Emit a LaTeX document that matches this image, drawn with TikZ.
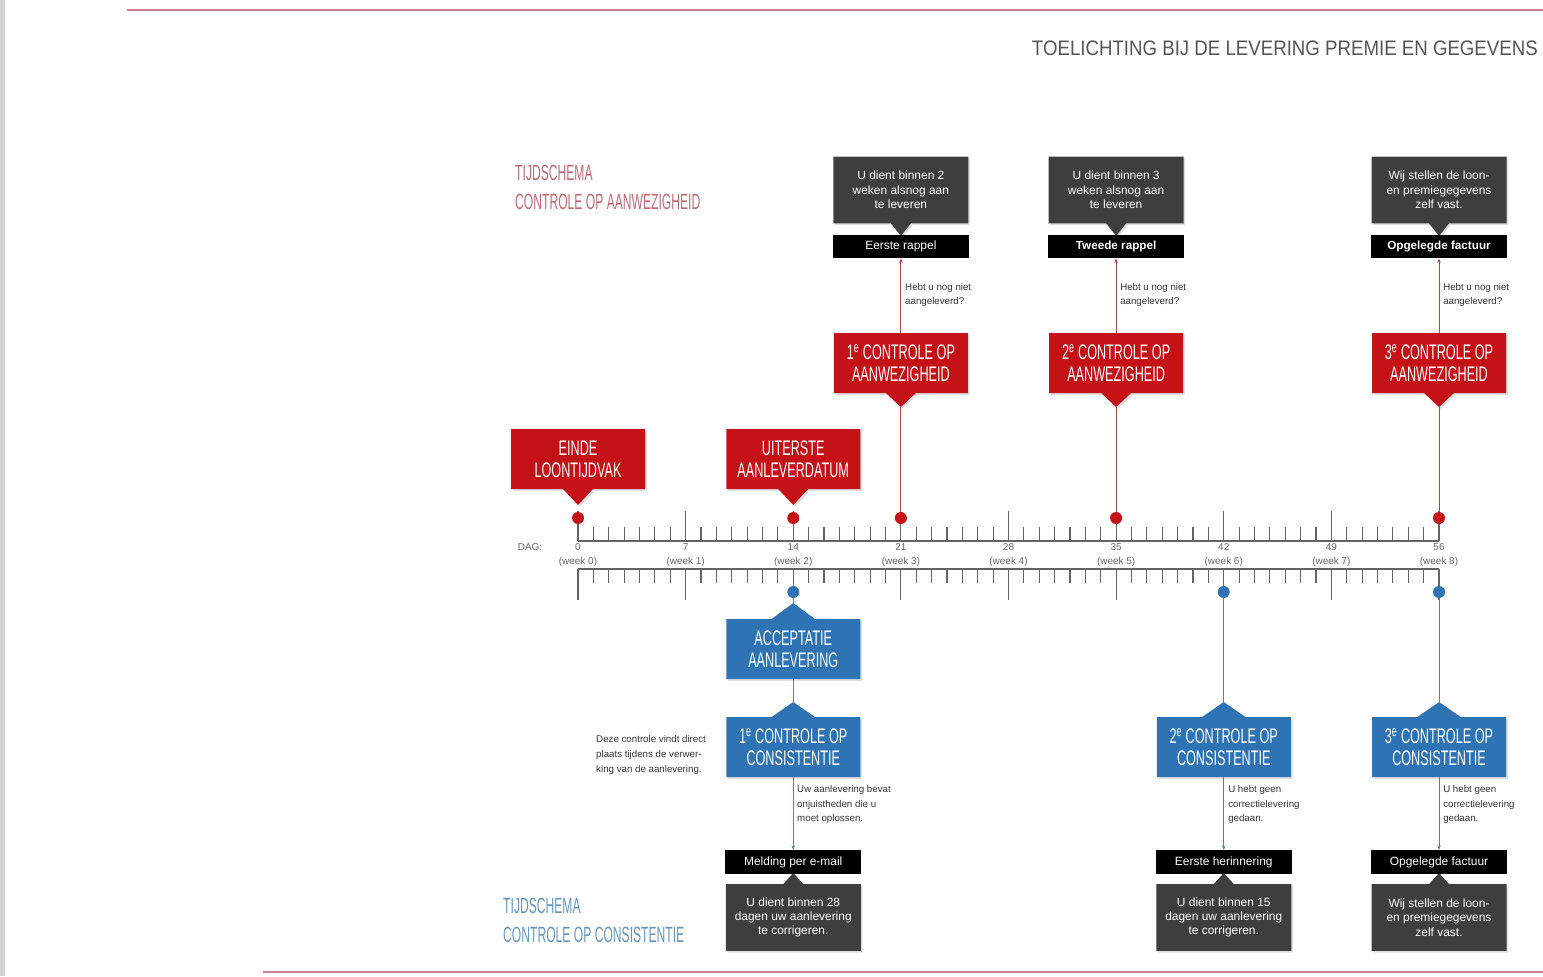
\documentclass[tikz,border=0pt]{standalone}
\usepackage{fontspec}
\setmainfont{Liberation Sans}
\newfontfamily\condfont[FakeStretch=0.6]{Liberation Sans}
\newfontfamily\headfont[FakeStretch=0.55]{Liberation Sans}
\newfontfamily\titlefont[FakeStretch=0.89]{Liberation Sans}
\usepackage{xcolor}
\usepackage{tikz}
\usetikzlibrary{arrows.meta,calc,positioning,shapes.callouts,shadows}

\definecolor{boxred}{RGB}{196,18,22}
\definecolor{boxblue}{RGB}{46,116,181}
\definecolor{boxdark}{RGB}{62,62,62}
\definecolor{headred}{RGB}{190,105,115}
\definecolor{headblue}{RGB}{100,150,190}
\definecolor{rulered}{RGB}{200,130,145}
\definecolor{linered}{RGB}{170,75,75}
\definecolor{lineblue}{RGB}{80,130,180}
\definecolor{axisgray}{RGB}{100,100,100}
\definecolor{titlegray}{RGB}{85,85,85}
\definecolor{pagegray}{RGB}{210,210,210}

\def\dx{15.375}

\tikzset{
  redbox/.style={rectangle callout, fill=boxred, text=white, minimum width=4.02cm, minimum height=1.8cm,
    inner sep=0pt, align=center, font=\condfont\fontsize{18}{18.8}\selectfont,
    callout pointer width=0.9cm, drop shadow={opacity=0.25,shadow xshift=1.5pt,shadow yshift=-1.5pt}},
  bluebox/.style={redbox, fill=boxblue, callout pointer width=1.3cm},
  darkbox/.style={rectangle callout, fill=boxdark, text=white, minimum width=4.05cm, minimum height=2cm,
    inner sep=0pt, align=center, font=\fontsize{10.2}{12.2}\selectfont,
    callout pointer width=0.6cm, drop shadow={opacity=0.25,shadow xshift=1.5pt,shadow yshift=-1.5pt}},
  bar/.style={fill=black, text=white, minimum width=4.08cm, minimum height=0.7cm, inner sep=0pt,
    font=\fontsize{10.2}{12}\selectfont},
  note/.style={align=left, inner sep=0pt, text=black!80, font=\fontsize{8.3}{12.6}\selectfont},
  head/.style={anchor=north west, align=left, inner sep=0pt, font=\headfont\fontsize{18.8}{24.7}\selectfont},
  daylbl/.style={inner sep=0pt, text=axisgray, font=\fontsize{8.5}{10}\selectfont},
  axis/.style={axisgray, line width=0.9pt},
  reddot/.style={circle, fill=boxred, minimum size=0.36cm, inner sep=0pt},
  bluedot/.style={circle, fill=boxblue, minimum size=0.36cm, inner sep=0pt},
  redline/.style={linered, line width=0.7pt},
  blueline/.style={lineblue, line width=0.7pt},
  rule/.style={rulered, line width=2.2pt}
}

\begin{document}
\begin{tikzpicture}[x=0.03cm,y=-0.03cm]
\useasboundingbox (0,0) rectangle (1543,976);
\fill[pagegray] (0,0) rectangle (5,976);
\draw[rule] (127,10) -- (1543,10);
\draw[rule] (263,972) -- (1543,972);
\node[anchor=east, inner sep=0pt, text=titlegray, font=\titlefont\fontsize{17.9}{20}\selectfont] (title) at (1538,48) {TOELICHTING BIJ DE LEVERING PREMIE EN GEGEVENS};

\node[head, text=headred] (headA) at (515,165) {TIJDSCHEMA\\CONTROLE OP AANWEZIGHEID};
\node[head, text=headblue] (headC) at (503,898) {TIJDSCHEMA\\CONTROLE OP CONSISTENTIE};

% time axes
\draw[axis] (578,541) -- (1439,541);
\draw[axis] (578,569) -- (1439,569);
\foreach \d in {0,...,56} {
  \draw[axis] ({578+\d*\dx},541) -- ++(0,-14);
  \draw[axis] ({578+\d*\dx},569) -- ++(0,14);
}
\foreach \w [evaluate=\w as \d using int(7*\w)] in {0,...,8} {
  \draw[axis] ({578+\d*\dx},541) -- ++(0,-30);
  \draw[axis] ({578+\d*\dx},569) -- ++(0,31);
  \node[daylbl] at ({578+\d*\dx},547) {\d};
  \node[daylbl] at ({578+\d*\dx},562) {(week \w)};
}
\node[daylbl] (dag) at (530,547) {DAG:};

\node[reddot] (r0) at (578,518) {};
\node[reddot] (r14) at (793.25,518) {};
\node[reddot] (r21) at (900.875,518) {};
\node[reddot] (r35) at (1116.125,518) {};
\node[reddot] (r56) at (1439,518) {};
\node[bluedot] (b14) at (793.25,592) {};
\node[bluedot] (b42) at (1223.75,592) {};
\node[bluedot] (b56) at (1439,592) {};

% aanwezigheid
\node[redbox, callout absolute pointer={(578,505)}] (einde) at (578,459) {EINDE\\LOONTIJDVAK};
\node[redbox, callout absolute pointer={(793.25,505)}] (uiterste) at (793.25,459) {UITERSTE\\AANLEVERDATUM};

\node[redbox, callout absolute pointer={(900.875,407)}] (aanw1) at (900.875,363) {1\textsuperscript{e} CONTROLE OP\\AANWEZIGHEID};
\node[redbox, callout absolute pointer={(1116.125,407)}] (aanw2) at (1116.125,363) {2\textsuperscript{e} CONTROLE OP\\AANWEZIGHEID};
\node[redbox, callout absolute pointer={(1439,407)}] (aanw3) at (1439,363) {3\textsuperscript{e} CONTROLE OP\\AANWEZIGHEID};
\draw[redline] (aanw1.pointer) -- (r21);
\draw[redline] (aanw2.pointer) -- (r35);
\draw[redline] (aanw3.pointer) -- (r56);

\node[darkbox, callout absolute pointer={(900.875,236)}] (msgA1) at (900.875,190) {U dient binnen 2\\weken alsnog aan\\te leveren};
\node[darkbox, callout absolute pointer={(1116.125,236)}] (msgA2) at (1116.125,190) {U dient binnen 3\\weken alsnog aan\\te leveren};
\node[darkbox, callout absolute pointer={(1439,236)}] (msgA3) at (1439,190) {Wij stellen de loon-\\en premiegegevens\\zelf vast.};
\node[bar] (rappel1) at (900.875,246.5) {Eerste rappel};
\node[bar, font=\bfseries\fontsize{10}{12}\selectfont] (rappel2) at (1116.125,246.5) {Tweede rappel};
\node[bar, font=\bfseries\fontsize{10}{12}\selectfont] (factuurA) at (1439,246.5) {Opgelegde factuur};

\draw[redline, -{Stealth[length=4pt,width=3pt]}] (aanw1.north) -- (rappel1.south);
\draw[redline, -{Stealth[length=4pt,width=3pt]}] (aanw2.north) -- (rappel2.south);
\draw[redline, -{Stealth[length=4pt,width=3pt]}] (aanw3.north) -- (factuurA.south);
\node[note, anchor=west] (vraag1) at (905,295) {Hebt u nog niet\\aangeleverd?};
\node[note, anchor=west] (vraag2) at (1120,295) {Hebt u nog niet\\aangeleverd?};
\node[note, anchor=west] (vraag3) at (1443,295) {Hebt u nog niet\\aangeleverd?};

% consistentie
\node[bluebox, callout absolute pointer={(793.25,603)}] (accept) at (793.25,649) {ACCEPTATIE\\AANLEVERING};
\node[bluebox, callout absolute pointer={(793.25,702)}] (cons1) at (793.25,747) {1\textsuperscript{e} CONTROLE OP\\CONSISTENTIE};
\node[bluebox, callout absolute pointer={(1223.75,702)}] (cons2) at (1223.75,747) {2\textsuperscript{e} CONTROLE OP\\CONSISTENTIE};
\node[bluebox, callout absolute pointer={(1439,702)}] (cons3) at (1439,747) {3\textsuperscript{e} CONTROLE OP\\CONSISTENTIE};
\draw[blueline] (b14) -- (accept.pointer);
\draw[blueline] (accept.south) -- (cons1.pointer);
\draw[blueline] (b42) -- (cons2.pointer);
\draw[blueline] (b56) -- (cons3.pointer);

\node[darkbox, callout absolute pointer={(793.25,873)}] (msgC1) at (793.25,917.5) {U dient binnen 28\\dagen uw aanlevering\\te corrigeren.};
\node[darkbox, callout absolute pointer={(1223.75,873)}] (msgC2) at (1223.75,917.5) {U dient binnen 15\\dagen uw aanlevering\\te corrigeren.};
\node[darkbox, callout absolute pointer={(1439,873)}] (msgC3) at (1439,917.5) {Wij stellen de loon-\\en premiegegevens\\zelf vast.};
\node[bar] (mail) at (793.25,862) {Melding per e-mail};
\node[bar] (herinnering) at (1223.75,862) {Eerste herinnering};
\node[bar] (factuurC) at (1439,862) {Opgelegde factuur};

\draw[blueline, -{Stealth[length=4pt,width=3pt]}] (cons1.south) -- (mail.north);
\draw[blueline, -{Stealth[length=4pt,width=3pt]}] (cons2.south) -- (herinnering.north);
\draw[blueline, -{Stealth[length=4pt,width=3pt]}] (cons3.south) -- (factuurC.north);

\node[note, anchor=west] (direct) at (596,755) {Deze controle vindt direct\\plaats tijdens de verwer-\\king van de aanlevering.};
\node[note, anchor=north west] (fouten) at (797,785) {Uw aanlevering bevat\\onjuistheden die u\\moet oplossen.};
\node[note, anchor=north west] (geen2) at (1228,785) {U hebt geen\\correctielevering\\gedaan.};
\node[note, anchor=north west] (geen3) at (1443,785) {U hebt geen\\correctielevering\\gedaan.};
\end{tikzpicture}
\end{document}
